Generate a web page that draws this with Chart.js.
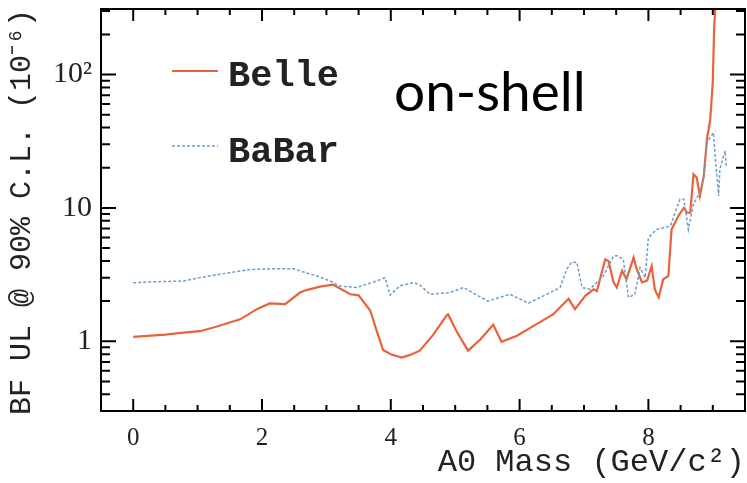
<!DOCTYPE html>
<html>
<head>
<meta charset="utf-8">
<script src="https://cdn.jsdelivr.net/npm/chart.js@4"></script>
<style>
  html, body { margin: 0; padding: 0; background: #fff; }
  #wrap { width: 747px; height: 483px; }
</style>
</head>
<body>
<div id="wrap"><canvas id="chart"></canvas></div>
<script>
// Belle upper limit (solid)
const belleMass = [0, 0.5, 0.78, 1.04, 1.3, 1.66, 1.92, 2.12, 2.36, 2.59, 2.69, 2.9, 3.1, 3.37, 3.5, 3.68, 3.78, 3.88, 4.0, 4.17, 4.3, 4.45,
  4.66, 4.87, 4.89, 5.02, 5.2, 5.39, 5.59, 5.72, 5.96, 6.21, 6.52, 6.65, 6.76, 6.86, 7.02, 7.15, 7.2, 7.33, 7.38, 7.46, 7.51,
  7.59, 7.66, 7.77, 7.82, 7.9, 7.98, 8.05, 8.1, 8.16, 8.23, 8.31, 8.36, 8.47, 8.55, 8.6, 8.65, 8.7, 8.75, 8.8, 8.86, 8.91,
  8.96, 9.0, 9.02, 9.05];
const belleUL = [1.08, 1.12, 1.16, 1.19, 1.29, 1.46, 1.74, 1.92, 1.9, 2.32, 2.42, 2.57, 2.66, 2.25, 2.21, 1.7, 1.2, 0.86, 0.8, 0.755, 0.79, 0.85,
  1.12, 1.57, 1.59, 1.19, 0.85, 1.03, 1.33, 0.99, 1.1, 1.3, 1.59, 1.84, 2.08, 1.74, 2.19, 2.45, 2.38, 4.12, 4.0, 2.76, 2.53,
  3.37, 2.92, 4.24, 3.47, 2.76, 2.85, 3.67, 2.45, 2.13, 2.92, 3.09, 6.9, 8.8, 10.0, 9.2, 9.2, 17.9, 16.9, 12.3, 17.4, 33,
  46, 88, 218, 400];

// BaBar upper limit (dotted)
const babarMass = [0, 0.39, 0.78, 1.04, 1.5, 1.81, 2.2, 2.49, 2.59, 2.85, 3.06, 3.19, 3.47, 3.65, 3.78, 3.91, 3.99, 4.14, 4.35, 4.45, 4.61,
  4.92, 5.13, 5.35, 5.51, 5.85, 6.14, 6.42, 6.63, 6.73, 6.81, 6.89, 6.97, 7.09, 7.3, 7.46, 7.51, 7.61, 7.69, 7.79, 7.87, 7.95,
  8.0, 8.13, 8.34, 8.49, 8.55, 8.62, 8.7, 8.8, 8.86, 8.91, 9.01, 9.04, 9.09, 9.11, 9.19, 9.21];
const babarUL = [2.75, 2.8, 2.83, 3.0, 3.27, 3.45, 3.5, 3.5, 3.37, 3.09, 2.83, 2.6, 2.53, 2.7, 2.83, 3.0, 2.22, 2.6, 2.75, 2.65, 2.25,
  2.32, 2.53, 2.2, 2.0, 2.25, 1.93, 2.25, 2.53, 3.47, 3.93, 3.89, 2.53, 2.45, 3.09, 4.37, 4.37, 4.12, 2.13, 2.25, 3.56, 3.0,
  6.0, 6.9, 7.3, 11.6, 11.6, 6.9, 10.7, 13.0, 16.9, 31, 36.7, 23.2, 12.3, 19.5, 26.8, 20.6];

const xTicks = [-0.5, 0, 0.5, 1, 1.5, 2, 2.5, 3, 3.5, 4, 4.5, 5, 5.5, 6, 6.5, 7, 7.5, 8, 8.5, 9, 9.5];
const xLabels = { 0: '0', 2: '2', 4: '4', 6: '6', 8: '8' };
const yTicks = [0.3, 0.4, 0.5, 0.6, 0.7, 0.8, 0.9, 1, 2, 3, 4, 5, 6, 7, 8, 9, 10, 20, 30, 40, 50, 60, 70, 80, 90, 100, 200, 300];
const yLabels = { 1: '1', 10: '10', 100: '10\u00B2' };

const belleColor = '#e8633b';
const babarColor = '#6d9dca';

// frame + inward ticks on all four sides
const framePlugin = {
  id: 'frame',
  afterDatasetsDraw(chart) {
    const { ctx, chartArea: a, scales } = chart;
    ctx.save();
    ctx.strokeStyle = '#000';
    ctx.lineWidth = 2;
    ctx.strokeRect(a.left, a.top, a.right - a.left, a.bottom - a.top);
    ctx.beginPath();
    xTicks.forEach(v => {
      const px = scales.x.getPixelForValue(v);
      const len = xLabels[v] !== undefined ? 12 : 6;
      ctx.moveTo(px, a.bottom); ctx.lineTo(px, a.bottom - len);
      ctx.moveTo(px, a.top); ctx.lineTo(px, a.top + len);
    });
    yTicks.forEach(v => {
      const py = scales.y.getPixelForValue(v);
      const len = yLabels[v] !== undefined ? 15 : 9;
      ctx.moveTo(a.left, py); ctx.lineTo(a.left + len, py);
      ctx.moveTo(a.right, py); ctx.lineTo(a.right - len, py);
    });
    ctx.stroke();

    // legend
    const lx = a.left + 71;
    ctx.lineWidth = 2;
    ctx.strokeStyle = belleColor;
    ctx.beginPath(); ctx.moveTo(lx, a.top + 62); ctx.lineTo(lx + 46, a.top + 62); ctx.stroke();
    ctx.strokeStyle = babarColor;
    ctx.lineWidth = 1.5;
    ctx.setLineDash([3, 2]);
    ctx.beginPath(); ctx.moveTo(lx, a.top + 137); ctx.lineTo(lx + 46, a.top + 137); ctx.stroke();
    ctx.setLineDash([]);
    ctx.fillStyle = '#222';
    ctx.font = 'bold 37px "Liberation Mono"';
    ctx.textBaseline = 'middle';
    ctx.fillText('Belle', lx + 56, a.top + 68);
    ctx.fillText('BaBar', lx + 56, a.top + 144);

    ctx.fillStyle = '#000';
    ctx.font = '55px Lato';
    ctx.textBaseline = 'alphabetic';
    ctx.fillText('on-shell', a.left + 293, a.top + 102);
    ctx.restore();
  }
};

const ctx = document.getElementById('chart').getContext('2d');
new Chart(ctx, {
  type: 'line',
  data: {
    datasets: [{
      label: 'BaBar',
      data: babarMass.map((m, i) => ({ x: m, y: babarUL[i] })),
      borderColor: babarColor,
      borderWidth: 1.5,
      borderDash: [3, 2],
      pointRadius: 0,
      tension: 0
    }, {
      label: 'Belle',
      data: belleMass.map((m, i) => ({ x: m, y: belleUL[i] })),
      borderColor: belleColor,
      borderWidth: 2.2,
      pointRadius: 0,
      tension: 0
    }]
  },
  options: {
    responsive: true,
    maintainAspectRatio: false,
    animation: false,
    layout: { padding: { top: 9, right: 2, left: 0, bottom: 0 } },
    plugins: { legend: { display: false }, tooltip: { enabled: false } },
    scales: {
      x: {
        type: 'linear',
        min: -0.5,
        max: 9.5,
        afterBuildTicks: s => { s.ticks = xTicks.map(v => ({ value: v })); },
        afterFit: s => { s.height = 72; s.paddingLeft = 0; s.paddingRight = 0; },
        grid: { display: false, drawTicks: false },
        border: { display: false },
        ticks: {
          autoSkip: false,
          maxRotation: 0,
          padding: 12,
          color: '#222',
          font: { family: '"Liberation Serif"', size: 25 },
          callback: v => xLabels[v] !== undefined ? xLabels[v] : ''
        },
        title: {
          display: true,
          text: 'A0 Mass (GeV/c\u00B2)',
          align: 'end',
          color: '#222',
          font: { family: '"Liberation Mono"', size: 32 },
          padding: { top: 0, bottom: 1 }
        }
      },
      y: {
        type: 'logarithmic',
        min: 0.3,
        max: 310,
        afterBuildTicks: s => { s.ticks = yTicks.map(v => ({ value: v })); },
        afterFit: s => { s.width = 101; s.paddingTop = 0; s.paddingBottom = 0; },
        grid: { display: false, drawTicks: false },
        border: { display: false },
        ticks: {
          autoSkip: false,
          padding: 9,
          color: '#222',
          font: { family: '"Liberation Serif"', size: 30 },
          callback: v => yLabels[v] !== undefined ? yLabels[v] : ''
        },
        title: {
          display: true,
          text: 'BF UL @ 90% C.L. (10\u207B\u2076)',
          align: 'end',
          color: '#222',
          font: { family: '"Liberation Mono"', size: 30 },
          padding: { top: 4, bottom: 0 }
        }
      }
    }
  },
  plugins: [framePlugin]
});
</script>
</body>
</html>
